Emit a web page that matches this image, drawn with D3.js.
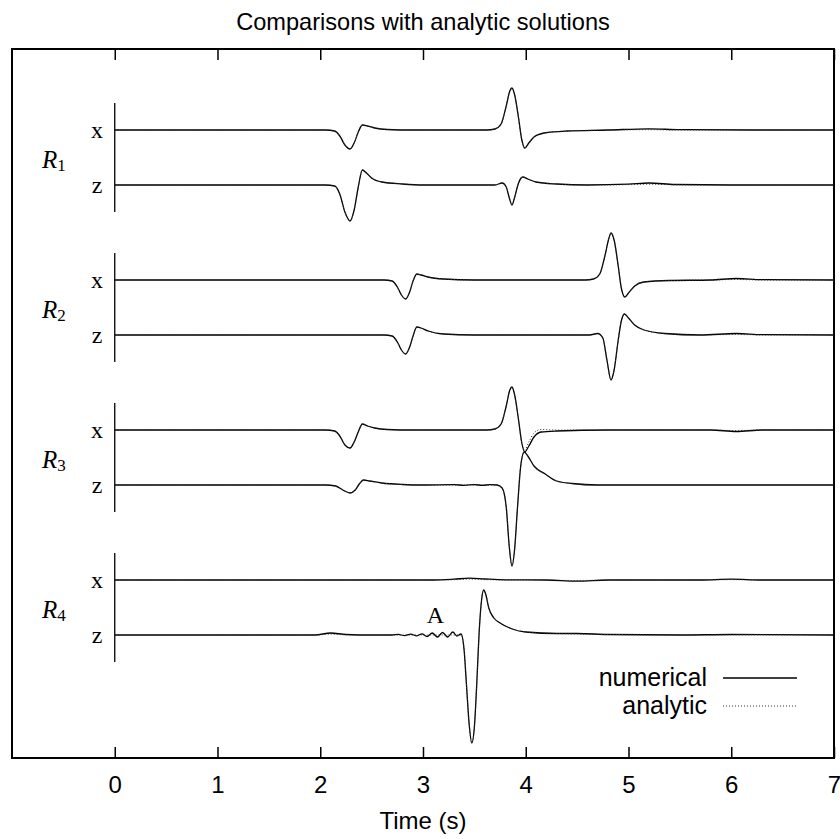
<!DOCTYPE html>
<html>
<head>
<meta charset="utf-8">
<script src="https://cdn.jsdelivr.net/npm/d3@7"></script>
<style>
  html, body { margin: 0; padding: 0; background: #fff; }
  svg { display: block; }
</style>
</head>
<body>
<svg id="chart" width="840" height="839"></svg>
<script>
// ---------------- DATA ----------------
const title = "Comparisons with analytic solutions";
const xLabel = "Time (s)";
const timeTicks = [0, 1, 2, 3, 4, 5, 6, 7];
const stationNames = ["1", "2", "3", "4"];
const componentNames = ["x", "z"];
const legendLabels = ["numerical", "analytic"];
const annotation = { text: "A", t: 3.12, station: 3, comp: 1, amp: 12 };

// amplitude values (arbitrary units), positive = up
const r1xNum = [[0,0],[2.05,0],[2.14,-1],[2.19,-6],[2.24,-15],[2.29,-19],[2.33,-13],[2.37,-2],[2.41,5],[2.46,4],[2.53,2],[2.65,0.5],[2.9,0],[3.62,0],[3.7,1],[3.76,6],[3.81,24],[3.845,39],[3.866,42],[3.89,36],[3.93,12],[3.96,-9],[3.99,-18],[4.03,-13],[4.08,-7],[4.18,-3],[4.4,-1],[4.8,0],[5.2,1.2],[5.5,0.3],[6.2,0],[7,0]];
const r1xAna = [[0,0],[2.05,0],[2.14,-1],[2.19,-6],[2.24,-15],[2.29,-19],[2.33,-13],[2.37,-2],[2.41,5],[2.46,4],[2.53,2],[2.65,0.5],[2.9,0],[3.62,0],[3.7,1],[3.76,6],[3.81,24],[3.845,39],[3.866,42],[3.89,36],[3.93,12],[3.96,-9],[3.99,-18],[4.03,-13],[4.08,-7],[4.18,-3],[4.4,-1],[4.8,0],[5.2,0.3],[5.5,0],[6.2,0],[7,0]];
const r1zNum = [[0,0],[2.05,0],[2.14,-1],[2.19,-9],[2.24,-27],[2.29,-36],[2.33,-25],[2.37,-2],[2.41,15],[2.45,12],[2.5,7],[2.6,3],[2.8,1],[3.0,0],[3.7,0],[3.77,2],[3.81,-2],[3.84,-13],[3.866,-20],[3.89,-13],[3.93,2],[3.97,8],[4.02,6],[4.1,3],[4.3,1],[4.6,0],[5.0,0.8],[5.2,2],[5.45,0.5],[6,0],[7,0]];
const r1zAna = [[0,0],[2.05,0],[2.14,-1],[2.19,-9],[2.24,-27],[2.29,-36],[2.33,-25],[2.37,-2],[2.41,15],[2.45,12],[2.5,7],[2.6,3],[2.8,1],[3.0,0],[3.7,0],[3.77,2],[3.81,-2],[3.84,-13],[3.866,-20],[3.89,-13],[3.93,2],[3.97,8],[4.02,6],[4.1,3],[4.3,1],[4.6,0],[5.0,0.3],[5.2,0.8],[5.45,0.2],[6,0],[7,0]];
const r2xNum = [[0,0],[2.62,0],[2.7,-1],[2.75,-7],[2.79,-15],[2.83,-19],[2.87,-12],[2.9,-2],[2.94,6],[2.98,5],[3.05,3],[3.2,1],[3.5,0],[4.58,0],[4.66,1],[4.72,6],[4.77,24],[4.81,42],[4.83,47],[4.86,40],[4.9,14],[4.93,-8],[4.965,-17],[5.0,-13],[5.06,-6],[5.15,-2],[5.4,-0.5],[5.8,0],[6.05,1.5],[6.3,0.3],[7,0]];
const r2xAna = [[0,0],[2.62,0],[2.7,-1],[2.75,-7],[2.79,-15],[2.83,-19],[2.87,-12],[2.9,-2],[2.94,6],[2.98,5],[3.05,3],[3.2,1],[3.5,0],[4.58,0],[4.66,1],[4.72,6],[4.77,24],[4.81,42],[4.83,47],[4.86,40],[4.9,14],[4.93,-8],[4.965,-17],[5.0,-13],[5.06,-6],[5.15,-2],[5.4,-0.5],[5.8,0],[6.05,0.5],[6.3,0],[7,0]];
const r2zNum = [[0,0],[2.62,0],[2.7,-1],[2.75,-7],[2.79,-15],[2.83,-19],[2.87,-12],[2.9,-2],[2.94,8],[2.98,7],[3.05,4],[3.2,1],[3.5,0],[4.62,0],[4.7,1.5],[4.75,-3],[4.79,-25],[4.83,-45],[4.86,-35],[4.9,-5],[4.93,14],[4.96,21],[5.0,17],[5.06,10],[5.15,5],[5.35,1.5],[5.7,0],[6.05,1.5],[6.3,0.3],[7,0]];
const r2zAna = [[0,0],[2.62,0],[2.7,-1],[2.75,-7],[2.79,-15],[2.83,-19],[2.87,-12],[2.9,-2],[2.94,8],[2.98,7],[3.05,4],[3.2,1],[3.5,0],[4.62,0],[4.7,1.5],[4.75,-3],[4.79,-25],[4.83,-45],[4.86,-35],[4.9,-5],[4.93,14],[4.96,21],[5.0,17],[5.06,10],[5.15,5],[5.35,1.5],[5.7,0],[6.05,0.5],[6.3,0],[7,0]];
const r3xNum = [[0,0],[2.05,0],[2.14,-1],[2.19,-6],[2.24,-15],[2.29,-18],[2.33,-12],[2.37,-2],[2.41,6],[2.46,4],[2.53,2],[2.65,0.5],[2.9,0],[3.62,0],[3.7,1],[3.76,6],[3.81,24],[3.845,40],[3.866,43],[3.89,36],[3.93,10],[3.96,-12],[3.99,-22],[4.03,-16],[4.08,-7],[4.15,-2],[4.3,-1],[4.8,0],[5.8,0],[6.05,-1.5],[6.3,0],[7,0]];
const r3xAna = [[0,0],[2.05,0],[2.14,-1],[2.19,-6],[2.24,-15],[2.29,-18],[2.33,-12],[2.37,-2],[2.41,6],[2.46,4],[2.53,2],[2.65,0.5],[2.9,0],[3.62,0],[3.7,1],[3.76,6],[3.81,24],[3.845,40],[3.866,43],[3.89,36],[3.93,10],[3.96,-12],[3.99,-20],[4.03,-12],[4.08,-3],[4.15,0.5],[4.3,0],[4.8,0],[5.8,0],[6.05,-0.5],[6.3,0],[7,0]];
const r3zNum = [[0,0],[2.05,0],[2.15,-1],[2.22,-5],[2.29,-8],[2.34,-5],[2.38,1],[2.42,5],[2.48,4],[2.6,2],[2.8,0.5],[3.0,0],[3.3,0.3],[3.4,-0.3],[3.5,0.4],[3.58,-0.4],[3.65,0.4],[3.72,0],[3.77,-3],[3.81,-22],[3.84,-62],[3.866,-81],[3.89,-66],[3.92,-22],[3.95,18],[3.985,33],[4.02,29],[4.08,19],[4.19,11],[4.3,4],[4.45,1.5],[4.7,0],[7,0]];
const r3zAna = [[0,0],[2.05,0],[2.15,-1],[2.22,-5],[2.29,-8],[2.34,-5],[2.38,1],[2.42,5],[2.48,4],[2.6,2],[2.8,0.5],[3.0,0],[3.72,0],[3.77,-3],[3.81,-22],[3.84,-62],[3.866,-81],[3.89,-66],[3.92,-22],[3.95,18],[3.985,33],[4.02,29],[4.08,19],[4.19,11],[4.3,4],[4.45,1.5],[4.7,0],[7,0]];
const r4xNum = [[0,0],[3.1,0],[3.3,0.8],[3.45,1.8],[3.6,1],[3.8,0.2],[4.2,0],[4.5,-1.2],[4.8,0],[5.7,0],[6.0,0.8],[6.3,0],[7,0]];
const r4xAna = [[0,0],[3.1,0],[3.3,0.3],[3.45,0.8],[3.6,0.4],[3.8,0],[4.2,0],[4.5,-0.6],[4.8,0],[5.7,0],[6.0,0.3],[6.3,0],[7,0]];
const r4zNum = [[0,0],[1.95,0],[2.1,2],[2.25,0.5],[2.5,0],[2.7,0],[2.76,0.6],[2.82,-0.6],[2.88,0.8],[2.94,-0.8],[2.99,1.2],[3.04,-1.5],[3.09,2],[3.14,-2],[3.19,2.5],[3.24,-2],[3.29,3],[3.33,-1],[3.37,1],[3.40,-15],[3.42,-45],[3.45,-90],[3.475,-108],[3.5,-92],[3.525,-45],[3.545,0],[3.57,35],[3.59,45],[3.61,41],[3.64,27],[3.69,17],[3.75,12],[3.87,6],[4.0,3],[4.3,1.5],[4.5,1.5],[4.8,0.5],[5.5,0],[6.0,0.5],[7,0]];
const r4zAna = [[0,0],[1.95,0],[2.1,0.8],[2.25,0.2],[2.5,0],[3.37,0],[3.40,-14],[3.42,-44],[3.45,-90],[3.475,-108],[3.5,-92],[3.525,-45],[3.545,0],[3.57,35],[3.59,45],[3.61,41],[3.64,27],[3.69,17],[3.75,12],[3.87,6],[4.0,3],[4.3,1.5],[4.5,1],[4.8,0.5],[5.5,0],[6.0,0.2],[7,0]];

const traces = [
  { station: 0, comp: 0, num: r1xNum, ana: r1xAna },
  { station: 0, comp: 1, num: r1zNum, ana: r1zAna },
  { station: 1, comp: 0, num: r2xNum, ana: r2xAna },
  { station: 1, comp: 1, num: r2zNum, ana: r2zAna },
  { station: 2, comp: 0, num: r3xNum, ana: r3xAna },
  { station: 2, comp: 1, num: r3zNum, ana: r3zAna },
  { station: 3, comp: 0, num: r4xNum, ana: r4xAna },
  { station: 3, comp: 1, num: r4zNum, ana: r4zAna }
];

// ---------------- LAYOUT ----------------
const svg = d3.select("#chart");
const frame = { left: 12, top: 49, right: 834, bottom: 758 };
const x = d3.scaleLinear().domain([-1, 7]).range([frame.left, frame.right]);
const firstBase = 130, stationGap = 150, compGap = 55;
const baseY = (s, c) => firstBase + s * stationGap + c * compGap;
const amp = d3.scaleLinear().domain([-100, 100]).range([100, -100]);

const sans = "'Liberation Sans', Arial, Helvetica, sans-serif";
const serif = "'Liberation Serif', 'Times New Roman', Times, serif";
const anaColor = "#333", anaDash = "1,2";

// title
svg.append("text").attr("x", (frame.left + frame.right) / 2).attr("y", 30)
  .attr("text-anchor", "middle").style("font-family", sans).style("font-size", "23.6px")
  .text(title);

// frame
svg.append("rect").attr("x", frame.left).attr("y", frame.top)
  .attr("width", frame.right - frame.left).attr("height", frame.bottom - frame.top)
  .attr("fill", "none").attr("stroke", "#000").attr("stroke-width", 2);

// bottom axis
const axB = d3.axisBottom(x).tickValues(timeTicks).tickSize(0).tickPadding(0).tickFormat(d3.format("d"));
const gB = svg.append("g").attr("transform", `translate(0,${frame.bottom})`).call(axB);
gB.select(".domain").remove();
gB.selectAll("text").attr("dy", null).attr("y", 35)
  .style("font-family", sans).style("font-size", "24px").attr("fill", "#000");
gB.selectAll(".tick").append("line").attr("y1", 0).attr("y2", -11)
  .attr("stroke", "#000").attr("stroke-width", 1.5);
// top ticks
const axT = d3.axisTop(x).tickValues(timeTicks).tickSize(0).tickFormat("");
const gT = svg.append("g").attr("transform", `translate(0,${frame.top})`).call(axT);
gT.select(".domain").remove();
gT.selectAll(".tick").append("line").attr("y1", 0).attr("y2", 11)
  .attr("stroke", "#000").attr("stroke-width", 1.5);

svg.append("text").attr("x", (frame.left + frame.right) / 2).attr("y", 829)
  .attr("text-anchor", "middle").style("font-family", sans).style("font-size", "24px")
  .text(xLabel);

// station axes and labels
stationNames.forEach((name, s) => {
  svg.append("line").attr("x1", x(0)).attr("x2", x(0))
    .attr("y1", baseY(s, 0) - 27).attr("y2", baseY(s, 1) + 27)
    .attr("stroke", "#000").attr("stroke-width", 1.3);
  componentNames.forEach((c, ci) => {
    svg.append("text").attr("x", 97).attr("y", baseY(s, ci) + 8)
      .attr("text-anchor", "middle").style("font-family", serif).style("font-size", "24px")
      .text(c);
  });
  const lbl = svg.append("text").attr("x", 42).attr("y", (baseY(s, 0) + baseY(s, 1)) / 2 + 10)
    .style("font-family", serif);
  lbl.append("tspan").style("font-style", "italic").style("font-size", "25px").text("R");
  lbl.append("tspan").attr("dy", 3).style("font-size", "17px").text(name);
});

// traces
const line = d3.line().x(d => x(d[0])).y(d => amp(d[1])).curve(d3.curveMonotoneX);
traces.forEach(tr => {
  const g = svg.append("g").attr("transform", `translate(0,${baseY(tr.station, tr.comp)})`);
  g.append("path").attr("d", line(tr.num)).attr("fill", "none")
    .attr("stroke", "#000").attr("stroke-width", 1.3);
  g.append("path").attr("d", line(tr.ana)).attr("fill", "none")
    .attr("stroke", anaColor).attr("stroke-width", 1).attr("stroke-dasharray", anaDash);
});

// annotation
svg.append("text").attr("x", x(annotation.t)).attr("y", baseY(annotation.station, annotation.comp) - annotation.amp)
  .attr("text-anchor", "middle").style("font-family", serif).style("font-size", "24px")
  .text(annotation.text);

// legend
const legend = [{ label: legendLabels[0], dash: null, color: "#000", w: 1.3 },
                { label: legendLabels[1], dash: anaDash, color: anaColor, w: 1 }];
legend.forEach((l, i) => {
  const y = 678 + i * 28;
  svg.append("text").attr("x", 707).attr("y", y + 8).attr("text-anchor", "end")
    .style("font-family", sans).style("font-size", "25px").text(l.label);
  svg.append("line").attr("x1", 723).attr("x2", 797).attr("y1", y).attr("y2", y)
    .attr("stroke", l.color).attr("stroke-width", l.w).attr("stroke-dasharray", l.dash);
});
</script>
</body>
</html>
